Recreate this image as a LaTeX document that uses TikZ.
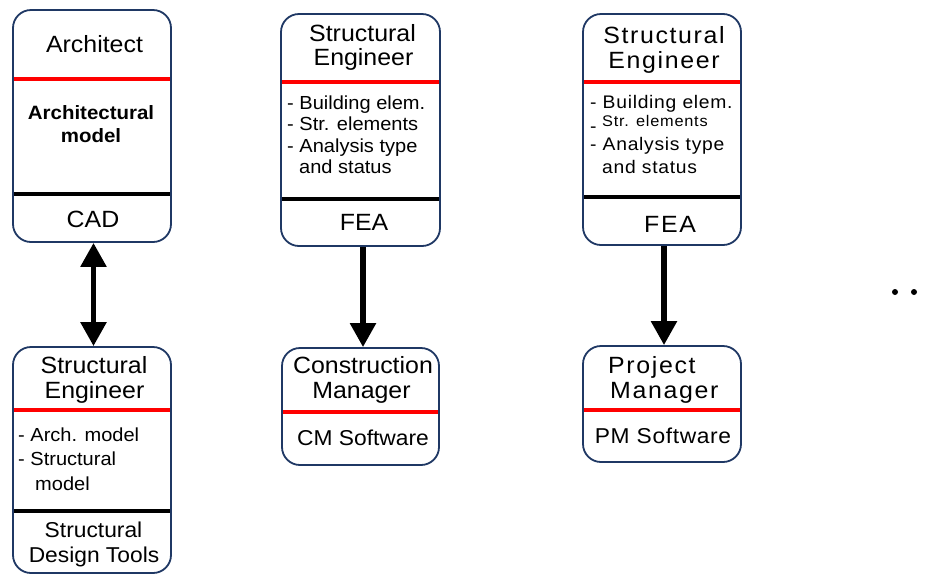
\documentclass[tikz,border=0pt]{standalone}
\usepackage{fontspec}
\setmainfont{Liberation Sans}[FakeStretch=1.06]
\usetikzlibrary{arrows.meta,backgrounds}
\definecolor{navy}{RGB}{31,56,100}
\definecolor{sepred}{RGB}{255,0,0}
\begin{document}
\begin{tikzpicture}[x=1pt,y=-1pt,
  box/.style={draw=navy, line width=1.8pt, rounded corners=18pt, inner sep=0pt},
  redsep/.style={draw=sepred, line width=4.5pt},
  blksep/.style={draw=black, line width=4.5pt},
  ttl/.style={inner sep=0pt, font=\fontsize{23.5}{24}\selectfont},
  ttlsp/.style={inner sep=0pt, font=\fontsize{23.5}{24}\selectfont\addfontfeature{LetterSpace=7}},
  bdy/.style={inner sep=0pt, font=\fontsize{18.9}{21}\selectfont},
  bdysp/.style={inner sep=0pt, font=\fontsize{18.2}{21}\selectfont\addfontfeature{LetterSpace=4}},
  small/.style={inner sep=0pt, font=\fontsize{15.4}{18}\selectfont\addfontfeature{LetterSpace=5}},
  bld/.style={inner sep=0pt, font=\fontsize{19.3}{23}\selectfont\bfseries},
  btm/.style={inner sep=0pt, font=\fontsize{21.5}{24}\selectfont},
  btmsp/.style={inner sep=0pt, font=\fontsize{21.5}{24}\selectfont\addfontfeature{LetterSpace=3}},
  conn/.style={line width=5.5pt, -{Triangle[width=25pt,length=24pt]}},
  dconn/.style={line width=5.5pt, {Triangle[width=25pt,length=24pt]}-{Triangle[width=25pt,length=24pt]}},
  dotn/.style={circle, fill=black, inner sep=0pt, minimum size=6pt}
]
\useasboundingbox (0,0) rectangle (929,574);
\begin{scope}[on background layer]
  \fill[white] (0,0) rectangle (929,574);
\end{scope}

% boxes
\node[box, minimum width=158pt, minimum height=232pt] (A) at (92,126) {};
\node[box, minimum width=159pt, minimum height=232pt] (B) at (360.5,130) {};
\node[box, minimum width=158pt, minimum height=231pt] (C) at (662,129.5) {};
\node[box, minimum width=158pt, minimum height=226pt] (D) at (92,460) {};
\node[box, minimum width=157pt, minimum height=117pt] (E) at (360.5,406.5) {};
\node[box, minimum width=158pt, minimum height=116pt] (F) at (662,404) {};

% separators
\begin{scope}[on background layer]
  \draw[redsep] (A.west |- 0,79) -- (A.east |- 0,79);
  \draw[blksep] (A.west |- 0,194) -- (A.east |- 0,194);
  \draw[redsep] (B.west |- 0,82) -- (B.east |- 0,82);
  \draw[blksep] (B.west |- 0,199) -- (B.east |- 0,199);
  \draw[redsep] (C.west |- 0,82) -- (C.east |- 0,82);
  \draw[blksep] (C.west |- 0,197) -- (C.east |- 0,197);
  \draw[redsep] (D.west |- 0,410) -- (D.east |- 0,410);
  \draw[blksep] (D.west |- 0,511) -- (D.east |- 0,511);
  \draw[redsep] (E.west |- 0,412) -- (E.east |- 0,412);
  \draw[redsep] (F.west |- 0,410) -- (F.east |- 0,410);
\end{scope}

% box A texts
\node[ttl, anchor=base] (a1) at (94.5,52) {Architect};
\node[bld, anchor=base] (a2) at (91,119) {Architectural};
\node[bld, anchor=base] (a3) at (91,142) {model};
\node[ttl, anchor=base] (a4) at (93,227) {CAD};

% box B texts
\node[ttl, anchor=base] (b1) at (362.5,41) {Structural};
\node[ttl, anchor=base] (b2) at (363.5,65) {Engineer};
\node[bdy, anchor=base west] (b3) at (287,109) {- Building elem.};
\node[bdy, anchor=base west] (b4) at (287,130) {- Str. elements};
\node[bdy, anchor=base west] (b5) at (287,152) {- Analysis type};
\node[bdy, anchor=base west] (b6) at (299,173) {and status};
\node[ttl, anchor=base] (b7) at (364,230) {FEA};

% box C texts
\node[ttlsp, anchor=base] (c1) at (664,43) {Structural};
\node[ttlsp, anchor=base] (c2) at (664,68) {Engineer};
\node[bdysp, anchor=base west] (c3) at (590,108) {- Building elem.};
\node[bdysp, anchor=base west] (c4h) at (590,132) {-};
\node[small, anchor=base west] (c4) at (602,126) {Str. elements};
\node[bdysp, anchor=base west] (c5) at (590,150) {- Analysis type};
\node[bdysp, anchor=base west] (c6) at (602,173) {and status};
\node[ttlsp, anchor=base] (c7) at (670,232) {FEA};

% box D texts
\node[ttl, anchor=base] (d1) at (94,373) {Structural};
\node[ttl, anchor=base] (d2) at (94.5,398) {Engineer};
\node[bdy, anchor=base west] (d3) at (18,441) {- Arch. model};
\node[bdy, anchor=base west] (d4) at (18,465) {- Structural};
\node[bdy, anchor=base west] (d5) at (35,490) {model};
\node[btm, anchor=base] (d6) at (93.5,537) {Structural};
\node[btm, anchor=base] (d7) at (94,562) {Design Tools};

% box E texts
\node[ttl, anchor=base] (e1) at (363,373) {Construction};
\node[ttl, anchor=base] (e2) at (361.5,398) {Manager};
\node[btm, anchor=base] (e3) at (363,445) {CM Software};

% box F texts
\node[ttlsp, anchor=base west] (f1) at (608,373) {Project};
\node[ttlsp, anchor=base west] (f2) at (610,398) {Manager};
\node[btmsp, anchor=base] (f3) at (663,443) {PM Software};

% connectors
\draw[dconn] ([xshift=1.5pt]A.south) -- ([xshift=1.5pt]D.north);
\draw[conn] ([xshift=2.5pt]B.south) -- ([xshift=2.5pt]E.north);
\draw[conn] ([xshift=2pt]C.south) -- ([xshift=2pt]F.north);

% ellipsis dots
\node[dotn] (dot1) at (895,292) {};
\node[dotn] (dot2) at (914,292) {};
\end{tikzpicture}
\end{document}
